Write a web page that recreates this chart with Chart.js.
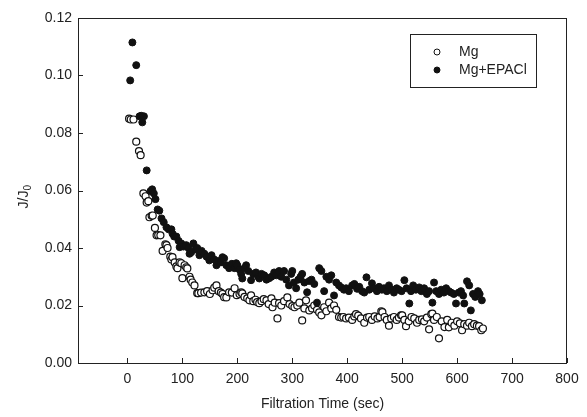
<!DOCTYPE html>
<html>
<head>
<meta charset="utf-8">
<style>
  html, body { margin: 0; padding: 0; background: #fff; }
  canvas { display: block; }
</style>
<script src="https://cdn.jsdelivr.net/npm/chart.js@4.4.1/dist/chart.umd.min.js"></script>
</head>
<body>
<canvas id="chart" width="587" height="417"></canvas>
<script>
// DATA TO DISPLAY
const seriesLabels = ["Mg", "Mg+EPACl"];
const xTickValues = [0, 100, 200, 300, 400, 500, 600, 700, 800];
const yTickValues = [0, 0.02, 0.04, 0.06, 0.08, 0.10, 0.12];

const mgTime = [3, 6, 11, 16, 21, 24, 29, 33, 35, 38, 40, 44, 46, 50, 53, 56, 60, 64, 69, 71,
  73, 78, 80, 82, 86, 89, 91, 95, 98, 100, 104, 107, 109, 113, 115, 118, 122, 127, 129, 134,
  140, 145, 150, 155, 158, 162, 166, 170, 173, 176, 180, 185, 190, 195, 199, 204, 207, 209, 213, 218,
  222, 225, 229, 233, 236, 240, 244, 248, 253, 257, 262, 264, 268, 273, 276, 280, 285, 291, 295, 300,
  304, 309, 313, 318, 322, 325, 331, 336, 340, 345, 349, 353, 358, 362, 367, 371, 376, 380, 385, 389,
  393, 398, 403, 409, 413, 416, 420, 425, 431, 436, 440, 445, 450, 455, 459, 462, 464, 468, 472, 476,
  480, 485, 490, 494, 498, 500, 504, 507, 512, 517, 522, 527, 531, 536, 540, 545, 549, 553, 555, 558,
  563, 567, 572, 577, 582, 585, 590, 595, 600, 605, 609, 613, 618, 622, 627, 631, 636, 640, 644, 647];
const mgRatio = [0.0850, 0.0847, 0.0847, 0.0770, 0.0737, 0.0723, 0.0590, 0.0580, 0.0558, 0.0563,
  0.0507, 0.0512, 0.0513, 0.0470, 0.0444, 0.0445, 0.0444, 0.0390, 0.0413, 0.0410,
  0.0400, 0.0370, 0.0360, 0.0368, 0.0350, 0.0336, 0.0330, 0.0350, 0.0347, 0.0295,
  0.0340, 0.0333, 0.0329, 0.0300, 0.0290, 0.0280, 0.0270, 0.0243, 0.0243, 0.0245,
  0.0246, 0.0250, 0.0240, 0.0253, 0.0262, 0.0270, 0.0250, 0.0245, 0.0240, 0.0229,
  0.0228, 0.0246, 0.0245, 0.0260, 0.0236, 0.0240, 0.0246, 0.0242, 0.0230, 0.0225,
  0.0218, 0.0235, 0.0215, 0.0220, 0.0212, 0.0208, 0.0215, 0.0222, 0.0218, 0.0205,
  0.0225, 0.0194, 0.0210, 0.0155, 0.0208, 0.0200, 0.0215, 0.0228, 0.0205, 0.0198,
  0.0194, 0.0200, 0.0210, 0.0148, 0.0190, 0.0218, 0.0183, 0.0190, 0.0200, 0.0185,
  0.0176, 0.0166, 0.0194, 0.0180, 0.0210, 0.0190, 0.0200, 0.0185, 0.0160, 0.0158,
  0.0160, 0.0155, 0.0158, 0.0150, 0.0162, 0.0170, 0.0165, 0.0155, 0.0140, 0.0158,
  0.0160, 0.0150, 0.0162, 0.0155, 0.0160, 0.0180, 0.0177, 0.0160, 0.0150, 0.0130,
  0.0155, 0.0160, 0.0150, 0.0158, 0.0166, 0.0166, 0.0150, 0.0128, 0.0145, 0.0160,
  0.0155, 0.0140, 0.0150, 0.0152, 0.0145, 0.0158, 0.0117, 0.0170, 0.0172, 0.0150,
  0.0160, 0.0086, 0.0145, 0.0125, 0.0150, 0.0124, 0.0140, 0.0130, 0.0145, 0.0138,
  0.0114, 0.0135, 0.0130, 0.0140, 0.0128, 0.0135, 0.0130, 0.0128, 0.0114, 0.0120];

const epaclTime = [5, 9, 16, 22, 25, 27, 30, 35, 42, 45, 48, 51, 55, 58, 62, 66, 71, 75, 80, 82,
  85, 89, 93, 95, 98, 102, 107, 111, 113, 116, 120, 124, 127, 131, 135, 140, 144, 149, 153, 158,
  162, 166, 170, 173, 176, 180, 185, 190, 195, 198, 200, 204, 207, 209, 213, 216, 220, 225, 229, 234,
  238, 240, 244, 249, 253, 255, 258, 262, 267, 271, 276, 280, 285, 289, 294, 298, 300, 303, 307, 311,
  315, 318, 322, 327, 331, 335, 340, 345, 349, 353, 358, 362, 367, 371, 376, 380, 385, 389, 394, 398,
  403, 409, 413, 418, 422, 427, 431, 435, 440, 445, 449, 454, 458, 463, 467, 472, 476, 481, 485, 490,
  494, 499, 504, 508, 513, 516, 520, 525, 531, 535, 540, 545, 549, 555, 558, 562, 567, 571, 576, 580,
  585, 589, 594, 598, 603, 607, 611, 613, 618, 622, 625, 629, 633, 638, 641, 645];
const epaclRatio = [0.0983, 0.1115, 0.1036, 0.0858, 0.0860, 0.0837, 0.0858, 0.0670, 0.0598, 0.0604,
  0.0590, 0.0570, 0.0534, 0.0530, 0.0503, 0.0490, 0.0472, 0.0465, 0.0465, 0.0450,
  0.0440, 0.0440, 0.0425, 0.0403, 0.0416, 0.0405, 0.0410, 0.0400, 0.0380, 0.0385,
  0.0416, 0.0395, 0.0400, 0.0375, 0.0390, 0.0380, 0.0370, 0.0357, 0.0375, 0.0360,
  0.0340, 0.0355, 0.0350, 0.0368, 0.0364, 0.0340, 0.0330, 0.0345, 0.0330, 0.0347,
  0.0340, 0.0325, 0.0310, 0.0294, 0.0330, 0.0340, 0.0320, 0.0288, 0.0310, 0.0315,
  0.0300, 0.0294, 0.0310, 0.0305, 0.0290, 0.0294, 0.0295, 0.0300, 0.0315, 0.0305,
  0.0320, 0.0300, 0.0320, 0.0290, 0.0270, 0.0310, 0.0320, 0.0280, 0.0260, 0.0290,
  0.0300, 0.0310, 0.0280, 0.0246, 0.0285, 0.0290, 0.0275, 0.0210, 0.0330, 0.0320,
  0.0250, 0.0300, 0.0290, 0.0305, 0.0235, 0.0280, 0.0270, 0.0263, 0.0255, 0.0260,
  0.0250, 0.0270, 0.0275, 0.0258, 0.0265, 0.0250, 0.0245, 0.0298, 0.0255, 0.0277,
  0.0260, 0.0250, 0.0265, 0.0255, 0.0260, 0.0250, 0.0270, 0.0255, 0.0245, 0.0260,
  0.0255, 0.0250, 0.0288, 0.0260, 0.0207, 0.0250, 0.0270, 0.0255, 0.0263, 0.0250,
  0.0260, 0.0240, 0.0250, 0.0210, 0.0280, 0.0250, 0.0240, 0.0255, 0.0245, 0.0260,
  0.0250, 0.0245, 0.0240, 0.0207, 0.0245, 0.0250, 0.0235, 0.0207, 0.0284, 0.0270,
  0.0183, 0.0240, 0.0230, 0.0250, 0.0240, 0.0218];

const ink = '#222';
const fontFamily = "'Liberation Sans', Arial, sans-serif";

const toPoints = (xs, ys) => xs.map((x, i) => ({ x: x, y: ys[i] }));

// FRAME, INNER TICK MARKS, Y TITLE AND BOXED LEGEND
const framePlugin = {
  id: 'frame',
  afterDatasetsDraw(chart) {
    const { ctx, chartArea: a, scales } = chart;
    ctx.save();
    ctx.strokeStyle = ink;
    ctx.lineWidth = 1;
    ctx.strokeRect(a.left + 0.5, a.top + 0.5, a.right - a.left - 1, a.bottom - a.top);

    ctx.beginPath();
    scales.x.ticks.forEach(t => {
      const px = Math.round(scales.x.getPixelForValue(t.value)) + 0.5;
      ctx.moveTo(px, a.bottom);
      ctx.lineTo(px, a.bottom - 5);
    });
    scales.y.ticks.forEach(t => {
      const py = Math.round(scales.y.getPixelForValue(t.value)) + 0.5;
      ctx.moveTo(a.left, py);
      ctx.lineTo(a.left + 5, py);
    });
    ctx.stroke();

    // y title with a real subscript
    ctx.save();
    ctx.translate(24, (a.top + a.bottom) / 2 + 6);
    ctx.rotate(-Math.PI / 2);
    ctx.fillStyle = ink;
    ctx.textBaseline = 'middle';
    ctx.font = '14px ' + fontFamily;
    const main = 'J/J';
    const mw = ctx.measureText(main).width;
    ctx.fillText(main, -mw / 2 - 3, 0);
    ctx.font = '10px ' + fontFamily;
    ctx.fillText('0', mw / 2 - 3, 4);
    ctx.restore();

    // legend box
    const bx = a.right - 157, by = a.top + 16;
    ctx.strokeRect(bx + 0.5, by + 0.5, 126, 53);
    ctx.font = '14px ' + fontFamily;
    ctx.textBaseline = 'middle';
    chart.data.datasets.forEach((ds, i) => {
      const ly = by + 18 + i * 18;
      ctx.beginPath();
      ctx.arc(bx + 27, ly, 3, 0, Math.PI * 2);
      ctx.fillStyle = ds.backgroundColor;
      ctx.fill();
      ctx.strokeStyle = ds.borderColor;
      ctx.stroke();
      ctx.fillStyle = ink;
      ctx.fillText(ds.label, bx + 49, ly);
    });
    ctx.restore();
  }
};

// CONFIGURE THE CHART
const cfg = {
  type: 'scatter',
  data: {
    datasets: [
      {
        label: seriesLabels[0],
        data: toPoints(mgTime, mgRatio),
        backgroundColor: '#fff',
        borderColor: '#111',
        borderWidth: 1.2,
        pointRadius: 3.5,
        order: 1
      },
      {
        label: seriesLabels[1],
        data: toPoints(epaclTime, epaclRatio),
        backgroundColor: '#111',
        borderColor: '#111',
        borderWidth: 1,
        pointRadius: 3.5,
        order: 0
      }
    ]
  },
  options: {
    responsive: false,
    animation: false,
    layout: { padding: { left: 10, top: 18, right: 20, bottom: 0 } },
    plugins: {
      legend: { display: false },
      tooltip: { enabled: false }
    },
    scales: {
      x: {
        type: 'linear',
        min: -90,
        max: 800,
        afterFit: s => { s.height = 54; },
        afterBuildTicks: s => { s.ticks = xTickValues.map(v => ({ value: v })); },
        border: { display: false },
        grid: { drawOnChartArea: false, drawTicks: false },
        ticks: {
          padding: 8,
          color: ink,
          font: { family: fontFamily, size: 14 }
        },
        title: {
          display: true,
          text: 'Filtration Time (sec)',
          color: ink,
          padding: { top: 0, bottom: 4 },
          font: { family: fontFamily, size: 14 }
        }
      },
      y: {
        min: 0,
        max: 0.12,
        afterFit: s => { s.width = 68; },
        afterBuildTicks: s => { s.ticks = yTickValues.map(v => ({ value: v })); },
        border: { display: false },
        grid: { drawOnChartArea: false, drawTicks: false },
        ticks: {
          padding: 6,
          color: ink,
          font: { family: fontFamily, size: 14 },
          callback: v => v.toFixed(2)
        }
      }
    }
  },
  plugins: [framePlugin]
};

// CREATE THE CHART
new Chart(document.getElementById('chart'), cfg);
</script>
</body>
</html>
